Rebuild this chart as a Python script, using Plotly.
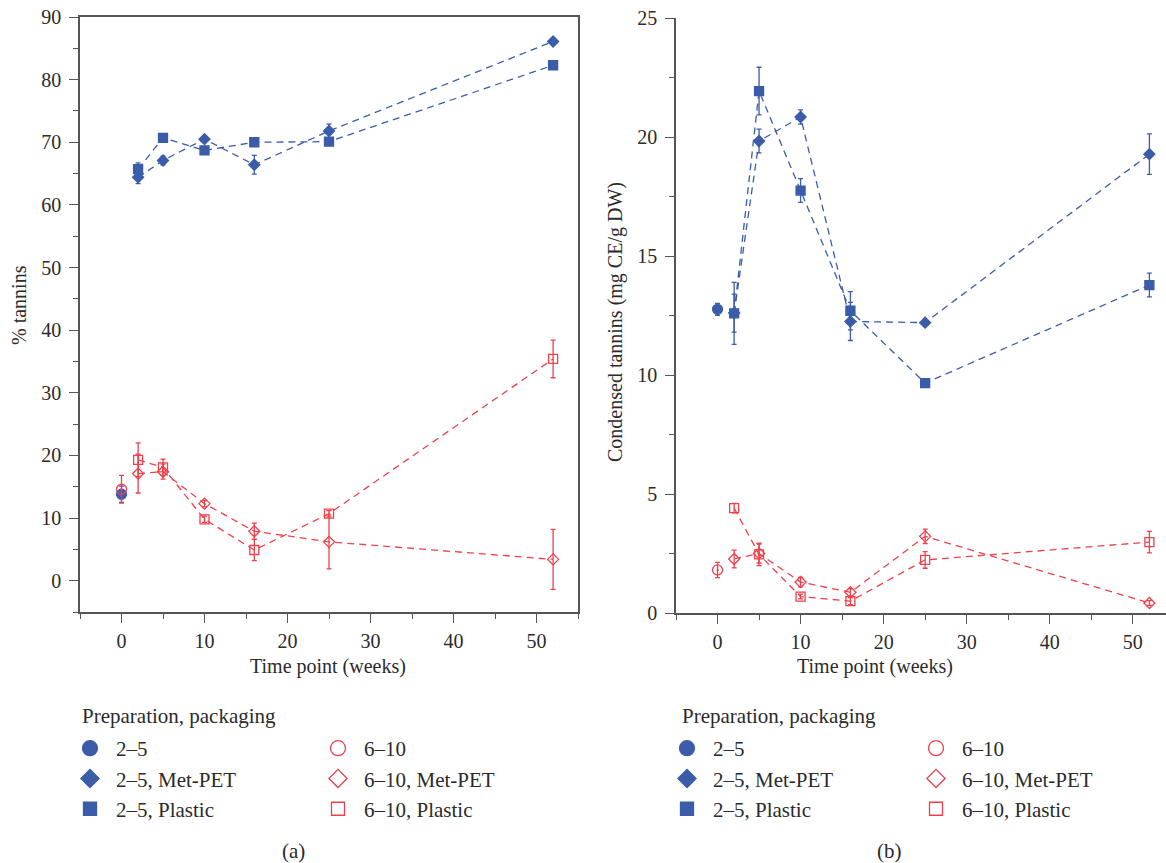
import plotly.graph_objects as go

# ---- data -------------------------------------------------------------
weeks = [2, 5, 10, 16, 25, 52]
fresh_week = [0]

# (a) % tannins
a_fresh_25 = [13.8]
a_fresh_25_err = [1.3]
a_fresh_610 = [14.6]
a_fresh_610_err = [2.2]
a_25_metpet = [64.4, 67.1, 70.5, 66.4, 71.8, 86.1]
a_25_metpet_err = [1.0, 0.7, 0.5, 1.5, 1.1, 0.3]
a_25_plastic = [65.7, 70.7, 68.7, 70.0, 70.1, 82.3]
a_25_plastic_err = [1.0, 0.4, 0.4, 0.6, 0.3, 0.3]
a_610_metpet = [17.1, 17.4, 12.3, 7.9, 6.2, 3.4]
a_610_metpet_err = [3.1, 1.2, 0.5, 1.3, 4.3, 4.8]
a_610_plastic = [19.3, 18.1, 9.8, 4.9, 10.7, 35.4]
a_610_plastic_err = [2.7, 1.3, 0.5, 1.7, 0.5, 3.0]

# (b) condensed tannins, mg CE/g DW
b_fresh_25 = [12.76]
b_fresh_25_err = [0.25]
b_fresh_610 = [1.81]
b_fresh_610_err = [0.32]
b_25_metpet = [12.6, 19.83, 20.84, 12.25, 12.2, 19.28]
b_25_metpet_err = [0.8, 0.5, 0.3, 0.8, 0.1, 0.85]
b_25_plastic = [12.59, 21.93, 17.75, 12.7, 9.66, 13.78]
b_25_plastic_err = [1.3, 1.0, 0.5, 0.8, 0.1, 0.5]
b_610_metpet = [2.27, 2.5, 1.30, 0.87, 3.22, 0.42]
b_610_metpet_err = [0.37, 0.4, 0.2, 0.15, 0.3, 0.1]
b_610_plastic = [4.41, 2.46, 0.69, 0.50, 2.23, 2.98]
b_610_plastic_err = [0.2, 0.47, 0.1, 0.15, 0.35, 0.45]

series_names = ["2–5", "2–5, Met-PET", "2–5, Plastic",
                "6–10", "6–10, Met-PET", "6–10, Plastic"]

BLUE = "#3b5ca9"
RED = "#ef404c"
FONT = "Liberation Serif"
TXT = "#2b2b2b"
AX = "#555555"
W, H = 1166, 863
TICK_SIZE = 20
LEG_SIZE = 21

fig = go.Figure()


def err(vals, color):
    return dict(type="data", array=vals, visible=True, color=color,
                thickness=1.3, width=2.5)


def add_series(xs, ys, es, color, symbol, size, xa, ya, lines):
    if lines:
        fig.add_trace(go.Scatter(
            x=xs, y=ys, mode="lines", xaxis=xa, yaxis=ya, showlegend=False,
            line=dict(color=color, width=1.3, dash="7px,5px"),
            hoverinfo="skip"))
    fig.add_trace(go.Scatter(
        x=xs, y=ys, mode="markers", xaxis=xa, yaxis=ya, showlegend=False,
        error_y=err(es, color),
        marker=dict(symbol=symbol, size=size, color=color,
                    line=dict(color=color, width=1.3))))


panels = [
    ("x", "y", a_fresh_25, a_fresh_25_err, a_25_metpet, a_25_metpet_err,
     a_25_plastic, a_25_plastic_err, a_fresh_610, a_fresh_610_err,
     a_610_metpet, a_610_metpet_err, a_610_plastic, a_610_plastic_err),
    ("x2", "y2", b_fresh_25, b_fresh_25_err, b_25_metpet, b_25_metpet_err,
     b_25_plastic, b_25_plastic_err, b_fresh_610, b_fresh_610_err,
     b_610_metpet, b_610_metpet_err, b_610_plastic, b_610_plastic_err),
]

for (xa, ya, f25, f25e, m25, m25e, p25, p25e,
     f610, f610e, m610, m610e, p610, p610e) in panels:
    add_series(weeks, m610, m610e, RED, "diamond-open", 8.5, xa, ya, True)
    add_series(weeks, p610, p610e, RED, "square-open", 9, xa, ya, True)
    add_series(weeks, m25, m25e, BLUE, "diamond", 8.5, xa, ya, True)
    add_series(weeks, p25, p25e, BLUE, "square", 9, xa, ya, True)
    add_series(fresh_week, f25, f25e, BLUE, "circle", 10, xa, ya, False)
    add_series(fresh_week, f610, f610e, RED, "circle-open-dot", 10, xa, ya, False)

# legend-only entries, two columns under each panel
legend_syms = [("circle", BLUE, 15), ("diamond", BLUE, 14), ("square", BLUE, 13),
               ("circle-open", RED, 15), ("diamond-open", RED, 14), ("square-open", RED, 13)]
for li, (leg_a, leg_b) in enumerate([("legend", "legend2"), ("legend3", "legend4")]):
    for i, (name, (sym, col, sz)) in enumerate(zip(series_names, legend_syms)):
        fig.add_trace(go.Scatter(
            x=[None], y=[None], mode="markers", name=name,
            legend=leg_a if i < 3 else leg_b,
            legendgroup=f"g{li}{i}",
            marker=dict(symbol=sym, size=sz, color=col,
                        line=dict(color=col, width=1.3))))


def px_x(p):
    return p / W


def px_y(p):
    return 1 - p / H


def xaxis(domain, rng, mirror, anchor):
    return dict(domain=domain, range=rng, anchor=anchor, automargin=False,
                showline=True, linecolor=AX, linewidth=1.5, mirror=mirror,
                ticks="outside", ticklen=9, tickwidth=1.3, tickcolor=AX,
                tickvals=[0, 10, 20, 30, 40, 50], ticklabelstandoff=1,
                minor=dict(dtick=5, tick0=0, ticks="outside", ticklen=5,
                           tickwidth=1.2, tickcolor=AX),
                showgrid=False, zeroline=False,
                tickfont=dict(family=FONT, size=TICK_SIZE, color=TXT))


def yaxis(domain, rng, dtick, mdtick, mirror, anchor):
    return dict(domain=domain, range=rng, anchor=anchor, automargin=False,
                showline=True, linecolor=AX, linewidth=1.5, mirror=mirror,
                ticks="outside", ticklen=9, tickwidth=1.3, tickcolor=AX,
                dtick=dtick, tick0=0, ticklabelstandoff=4,
                minor=dict(dtick=mdtick, tick0=0, ticks="outside", ticklen=5,
                           tickwidth=1.2, tickcolor=AX),
                showgrid=False, zeroline=False,
                tickfont=dict(family=FONT, size=TICK_SIZE, color=TXT))


def legend_box(xp, yp):
    return dict(x=px_x(xp), y=px_y(yp), xanchor="left", yanchor="top",
                bgcolor="rgba(0,0,0,0)", borderwidth=0, tracegroupgap=0,
                itemwidth=42,
                font=dict(family=FONT, size=LEG_SIZE, color=TXT),
                itemclick=False, itemdoubleclick=False)


fig.update_layout(
    width=W, height=H,
    margin=dict(l=0, r=0, t=0, b=0),
    paper_bgcolor="white", plot_bgcolor="white",
    font=dict(family=FONT, size=TICK_SIZE, color=TXT),
    xaxis=xaxis([px_x(80), px_x(578)], [-5, 55], True, "y"),
    yaxis=yaxis([px_y(612), px_y(17)], [-5, 90], 10, 5, True, "x"),
    xaxis2=xaxis([px_x(676), 1.0], [-5, 54.0], False, "y2"),
    yaxis2=yaxis([px_y(613), px_y(18)], [0, 25], 5, 2.5, False, "x2"),
    legend=legend_box(64, 728),
    legend2=legend_box(312, 728),
    legend3=legend_box(661, 728),
    legend4=legend_box(910, 728),
    showlegend=True,
)

annotations = [
    ("% tannins", 19, 305, 90, TICK_SIZE),
    ("Condensed tannins (mg CE/g DW)", 616, 322, 90, TICK_SIZE),
    ("Time point (weeks)", 328, 666, 0, TICK_SIZE),
    ("Time point (weeks)", 875, 666, 0, TICK_SIZE),
    ("(a)", 293, 851, 0, LEG_SIZE),
    ("(b)", 889, 851, 0, LEG_SIZE),
]
for text, xp, yp, rot, sz in annotations:
    fig.add_annotation(text=text, x=px_x(xp), y=px_y(yp), xref="paper",
                       yref="paper", showarrow=False, textangle=-rot,
                       xanchor="center", yanchor="middle",
                       font=dict(family=FONT, size=sz, color=TXT))

for xp in (80, 680):
    fig.add_annotation(text="Preparation, packaging", x=px_x(xp), y=px_y(716),
                       xref="paper", yref="paper", showarrow=False,
                       xanchor="left", yanchor="middle",
                       font=dict(family=FONT, size=LEG_SIZE, color=TXT))

fig.write_html("out.html")
